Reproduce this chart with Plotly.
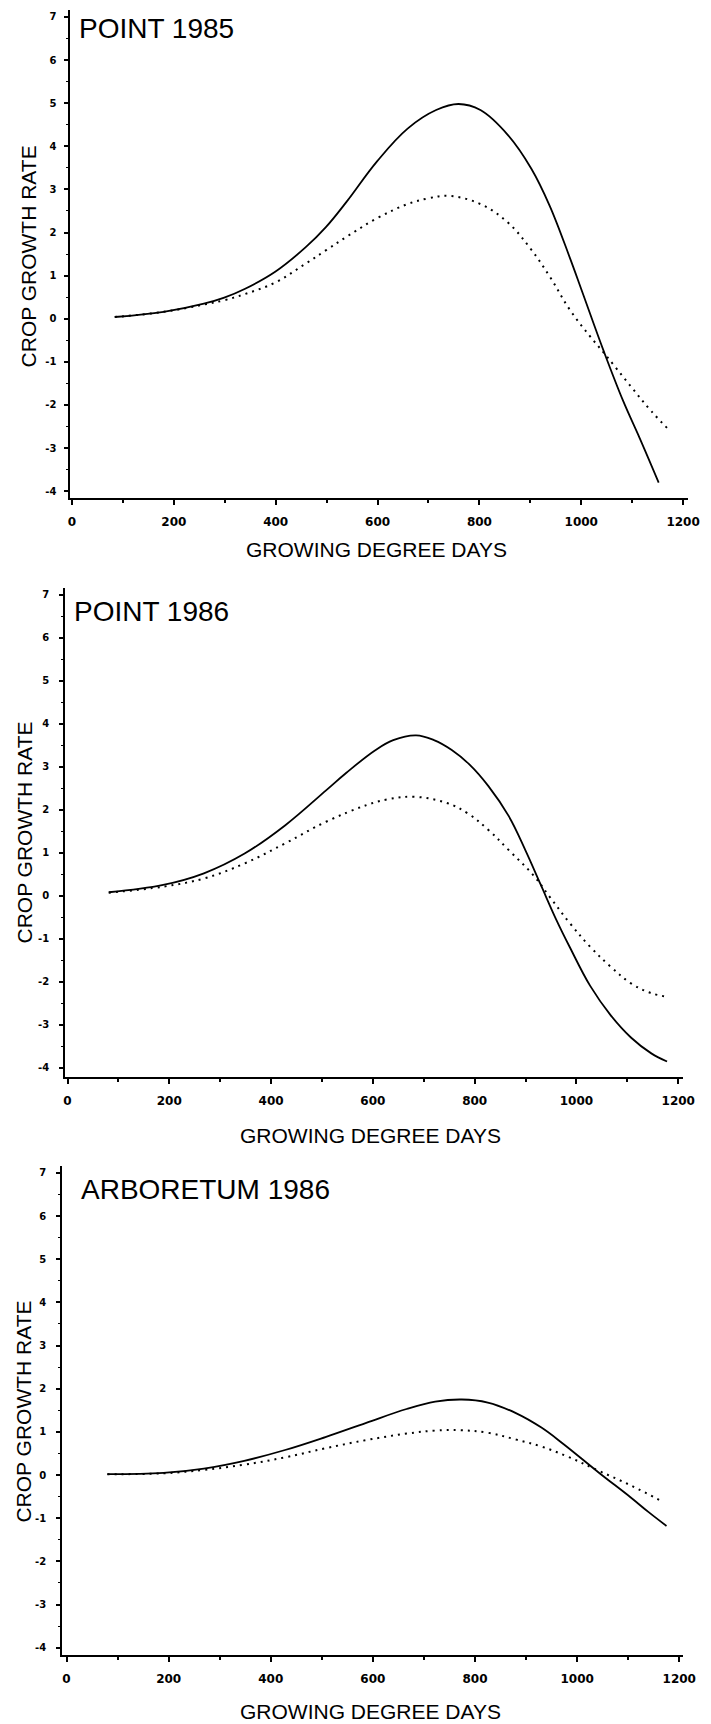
import plotly.graph_objects as go

W, H = 711, 1724

# ---- data ----
p1_solid_x = [84, 180, 259, 299, 339, 399, 459, 499, 539, 599, 659, 715, 759, 802, 856, 902, 938, 978, 1002, 1045, 1082, 1114, 1152]
p1_solid_y = [0.04, 0.16, 0.35, 0.49, 0.69, 1.09, 1.66, 2.13, 2.71, 3.65, 4.41, 4.84, 4.98, 4.84, 4.26, 3.48, 2.62, 1.40, 0.62, -0.78, -1.90, -2.75, -3.80]
p1_dot_x = [84, 180, 259, 299, 339, 399, 459, 499, 539, 599, 659, 699, 739, 802, 856, 902, 938, 978, 1018, 1045, 1098, 1138, 1174]
p1_dot_y = [0.04, 0.16, 0.33, 0.43, 0.57, 0.84, 1.28, 1.59, 1.90, 2.33, 2.66, 2.79, 2.85, 2.66, 2.23, 1.60, 0.98, 0.20, -0.42, -0.80, -1.58, -2.15, -2.60]

p2_solid_x = [81, 188, 268, 348, 428, 508, 548, 604, 640, 685, 720, 755, 790, 827, 867, 900, 930, 960, 987, 1027, 1067, 1107, 1147, 1178]
p2_solid_y = [0.08, 0.25, 0.52, 0.98, 1.64, 2.45, 2.86, 3.38, 3.62, 3.73, 3.62, 3.39, 3.05, 2.55, 1.85, 1.05, 0.25, -0.55, -1.20, -2.10, -2.78, -3.30, -3.67, -3.86]
p2_dot_x = [81, 188, 268, 348, 428, 508, 588, 628, 683, 747, 787, 827, 867, 915, 947, 987, 1027, 1067, 1107, 1147, 1178]
p2_dot_y = [0.07, 0.21, 0.40, 0.75, 1.22, 1.72, 2.11, 2.24, 2.30, 2.15, 1.91, 1.53, 1.06, 0.48, -0.02, -0.64, -1.19, -1.65, -2.04, -2.27, -2.35]

p3_solid_x = [80, 190, 269, 348, 428, 507, 587, 666, 722, 774, 825, 881, 930, 973, 1042, 1105, 1140, 1175]
p3_solid_y = [0.02, 0.05, 0.15, 0.33, 0.58, 0.88, 1.21, 1.53, 1.70, 1.75, 1.68, 1.43, 1.10, 0.72, 0.06, -0.52, -0.86, -1.18]
p3_dot_x = [80, 190, 269, 348, 428, 507, 587, 666, 722, 770, 825, 881, 930, 979, 1042, 1105, 1168]
p3_dot_y = [0.02, 0.04, 0.12, 0.24, 0.41, 0.62, 0.81, 0.96, 1.03, 1.04, 0.98, 0.82, 0.66, 0.44, 0.10, -0.24, -0.62]

panel_titles = ["POINT 1985", "POINT 1986", "ARBORETUM 1986"]
x_title = "GROWING DEGREE DAYS"
y_title = "CROP GROWTH RATE"
x_ticks = [0, 200, 400, 600, 800, 1000, 1200]
x_ticktext = ["0", "200", "400", "600", "800", "1000", "1200"]
y_ticks = [-4, -3, -2, -1, 0, 1, 2, 3, 4, 5, 6, 7]
y_ticktext = ["-4", "-3", "-2", "-1", "0", "1", "2", "3", "4", "5", "6", "7"]

# ---- layout geometry (pixels) ----
panels = [
    dict(x0=69.0, x1=701.0, y0=10.0, y1=497.7, xr=[-3, 1210], yr=[-4.15, 7.16],
         title_xy=(76, 29), ytitle_xy=(26, 256), xtitle_xy=(382, 549), ystand=6),
    dict(x0=63.6, x1=696.0, y0=588.0, y1=1077.0, xr=[-4.6, 1210], yr=[-4.22, 7.16],
         title_xy=(71, 611), ytitle_xy=(21, 833), xtitle_xy=(376, 1135), ystand=8),
    dict(x0=60.5, x1=695.5, y0=1166.0, y1=1654.6, xr=[-8.6, 1207], yr=[-4.16, 7.16],
         title_xy=(78, 1189), ytitle_xy=(20, 1412), xtitle_xy=(376, 1711), ystand=8),
]
data = [
    (p1_solid_x, p1_solid_y, p1_dot_x, p1_dot_y),
    (p2_solid_x, p2_solid_y, p2_dot_x, p2_dot_y),
    (p3_solid_x, p3_solid_y, p3_dot_x, p3_dot_y),
]

TXT = "Liberation Sans, Arial, sans-serif"

fig = go.Figure()
layout = dict(width=W, height=H, margin=dict(l=0, r=0, t=0, b=0),
              paper_bgcolor="white", plot_bgcolor="white", showlegend=False,
              annotations=[])

for i, (p, (sx, sy, dx, dy)) in enumerate(zip(panels, data)):
    n = "" if i == 0 else str(i + 1)
    xa, ya = "x" + n, "y" + n
    fig.add_trace(go.Scatter(x=sx, y=sy, mode="lines", xaxis=xa, yaxis=ya,
                             line=dict(color="black", width=1.8, shape="spline", smoothing=1.1)))
    fig.add_trace(go.Scatter(x=dx, y=dy, mode="lines", xaxis=xa, yaxis=ya,
                             line=dict(color="black", width=2, dash="2px,5px", shape="spline", smoothing=1.1)))
    layout["xaxis" + n] = dict(
        domain=[p["x0"] / W, p["x1"] / W], anchor=ya, range=p["xr"],
        showline=True, linecolor="black", linewidth=2, showgrid=False, zeroline=False,
        tickmode="array", tickvals=x_ticks, ticktext=x_ticktext, ticks="outside", ticklen=5, tickwidth=2,
        tickcolor="black", tickfont=dict(family="DejaVu Sans", size=12, color="black", weight="bold"),
        ticklabelstandoff=7,
        minor=dict(tickmode="linear", tick0=0, dtick=100, ticks="outside", ticklen=3,
                   tickwidth=1.5, tickcolor="black", showgrid=False),
    )
    layout["yaxis" + n] = dict(
        domain=[1 - p["y1"] / H, 1 - p["y0"] / H], anchor=xa, range=p["yr"],
        showline=True, linecolor="black", linewidth=2, showgrid=False, zeroline=False,
        tickmode="array", tickvals=y_ticks, ticktext=y_ticktext, ticks="outside", ticklen=4, tickwidth=1.5,
        tickcolor="black", tickfont=dict(family="DejaVu Sans", size=10, color="black", weight="bold"),
        ticklabelstandoff=p["ystand"],
        minor=dict(tickmode="linear", tick0=0, dtick=0.5, ticks="outside", ticklen=2,
                   tickwidth=1, tickcolor="black", showgrid=False),
    )
    tx, ty = p["title_xy"]
    layout["annotations"].append(dict(
        text=panel_titles[i], x=tx / W, y=1 - ty / H, xref="paper", yref="paper",
        xanchor="left", yanchor="middle", showarrow=False,
        font=dict(family=TXT, size=28, color="black")))
    yx, yy = p["ytitle_xy"]
    layout["annotations"].append(dict(
        text=y_title, x=yx / W, y=1 - yy / H, xref="paper", yref="paper",
        xanchor="center", yanchor="middle", showarrow=False, textangle=-90,
        font=dict(family=TXT, size=21, color="black")))
    xx, xy = p["xtitle_xy"]
    layout["annotations"].append(dict(
        text=x_title, x=xx / W, y=1 - xy / H, xref="paper", yref="paper",
        xanchor="center", yanchor="middle", showarrow=False,
        font=dict(family=TXT, size=21, color="black")))

fig.update_layout(**layout)
fig.write_html("out.html")
